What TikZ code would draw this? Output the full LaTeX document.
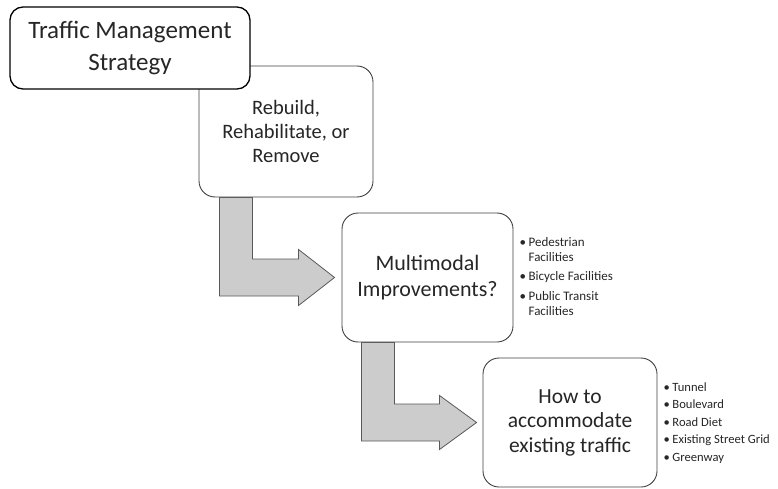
\documentclass[tikz,border=0pt]{standalone}
\usepackage{fontspec}
\setmainfont{Carlito}
\usetikzlibrary{positioning,calc,backgrounds}

\tikzset{
 box/.style={draw=black!75, line width=0.9pt, fill=white, rounded corners=16pt,
   align=center, inner sep=0pt, text=black!85},
 topbox/.style={box, draw=black, line width=1.3pt, rounded corners=13pt},
 bentarrow/.style={draw=black!65, line width=0.8pt, fill=black!20, line join=miter},
 bullets/.style={inner sep=0pt, align=left, text=black!85}
}

\begin{document}
\begin{tikzpicture}[x=1pt, y=-1pt]
 \useasboundingbox (0,0) rectangle (778,489);
 % the four steps
 \node[box, minimum width=174pt, minimum height=131pt,
   font=\fontsize{20.5}{24}\selectfont] (rebuild) at (286,131.5)
   {Rebuild,\\ Rehabilitate, or\\ Remove};
 \node[topbox, minimum width=240pt, minimum height=82pt,
   font=\fontsize{25}{32}\selectfont] (strategy) at (130,48)
   {Traffic Management\\ Strategy};
 \node[box, minimum width=171pt, minimum height=129pt,
   font=\fontsize{22}{25.5}\selectfont] (multimodal) at (427.5,277.5)
   {Multimodal\\ Improvements?};
 \node[box, minimum width=174pt, minimum height=129pt,
   font=\fontsize{21.5}{24.5}\selectfont] (accommodate) at (570,422.5)
   {How to\\ accommodate\\ existing traffic};
 % side lists
 \node[bullets, right=6pt of multimodal, font=\fontsize{13}{15}\selectfont] (modes)
   {\begin{tabular}{@{}l@{\hspace{2.5pt}}l@{}}
    \textbullet & Pedestrian\\
               & Facilities\\[4.5pt]
    \textbullet & Bicycle Facilities\\[4.5pt]
    \textbullet & Public Transit\\
               & Facilities
   \end{tabular}};
 \node[bullets, right=6pt of accommodate, font=\fontsize{12.6}{17.5}\selectfont] (options)
   {\begin{tabular}{@{}l@{\hspace{2.5pt}}l@{}}
    \textbullet & Tunnel\\
    \textbullet & Boulevard\\
    \textbullet & Road Diet\\
    \textbullet & Existing Street Grid\\
    \textbullet & Greenway
   \end{tabular}};
 % bent block arrows
 \begin{scope}[on background layer]
 \draw[bentarrow] let \p1=(rebuild.south west), \p2=(multimodal.west) in
   (\x1+21pt,\y1) -- (\x1+54pt,\y1) -- (\x1+54pt,\y2+18.5pt)
   -- (\x2-43pt,\y2+18.5pt) -- (\x2-43pt,\y2+28pt) -- (\x2-7pt,\y2)
   -- (\x2-43pt,\y2-28pt) -- (\x2-43pt,\y2-18.5pt) -- (\x1+21pt,\y2-18.5pt) -- cycle;
 \draw[bentarrow] let \p1=(multimodal.south west), \p2=(accommodate.west) in
   (\x1+20pt,\y1) -- (\x1+53pt,\y1) -- (\x1+53pt,\y2+18.5pt)
   -- (\x2-43pt,\y2+18.5pt) -- (\x2-43pt,\y2+27pt) -- (\x2-6pt,\y2)
   -- (\x2-43pt,\y2-27pt) -- (\x2-43pt,\y2-18.5pt) -- (\x1+20pt,\y2-18.5pt) -- cycle;
 \end{scope}
\end{tikzpicture}
\end{document}
